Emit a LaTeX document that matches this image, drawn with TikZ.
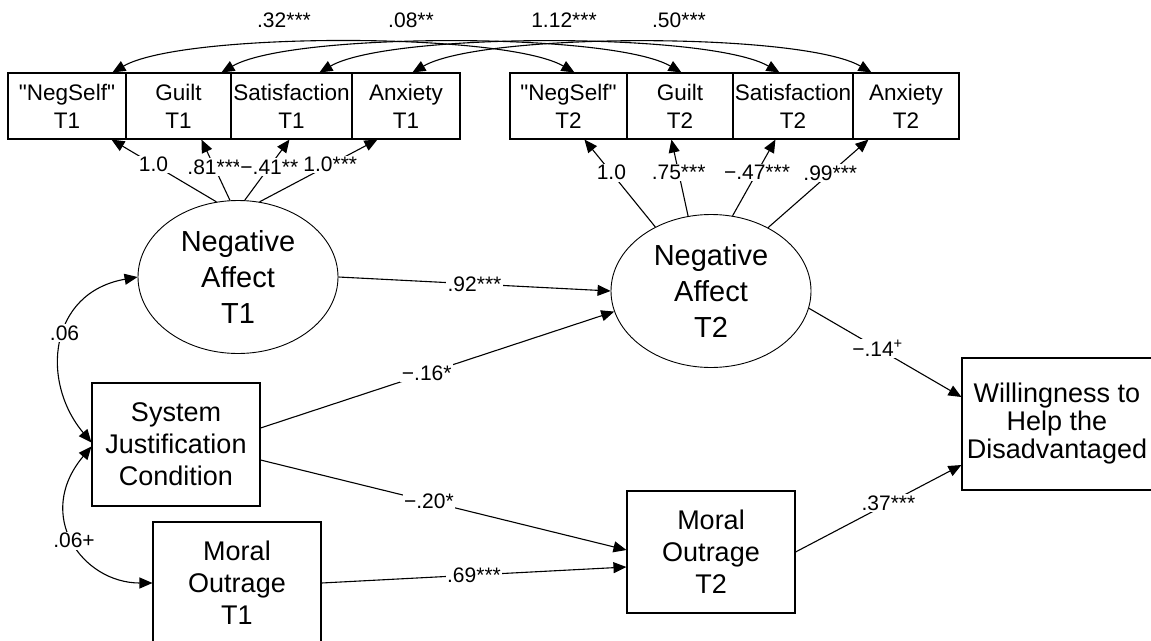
\documentclass[tikz,border=0pt]{standalone}
\usepackage{fontspec}
\setmainfont{Liberation Sans}
\usetikzlibrary{arrows.meta,shapes.geometric}
\begin{document}
\begin{tikzpicture}[x=1pt,y=1pt,
 box/.style={draw, line width=1.1pt, rectangle, inner sep=0pt, align=center, minimum width=168pt, minimum height=122pt, font=\fontsize{27}{32}\selectfont},
 ind/.style={draw, line width=1.1pt, rectangle, inner sep=0pt, minimum height=66pt, align=center, font=\fontsize{22.5}{28}\selectfont},
 lat/.style={draw, line width=0.9pt, ellipse, inner sep=0pt, minimum width=200pt, minimum height=153pt, align=center, font=\fontsize{29}{36}\selectfont},
 conn/.style={line width=1.1pt, -{Triangle[length=13pt,width=11pt]}},
 cov/.style={line width=1.1pt, {Triangle[length=13pt,width=11pt]}-{Triangle[length=13pt,width=11pt]}},
 lbl/.style={fill=white, inner sep=1.5pt, font=\fontsize{21}{24}\selectfont},
 toplbl/.style={inner sep=0pt, font=\fontsize{21}{24}\selectfont}]
\path[use as bounding box] (0,0) rectangle (1151,-640);
\clip (0,0) rectangle (1151,-640);

% indicators T1
\node[ind, minimum width=118pt] (ns1) at (67,-106) {\textquotedbl NegSelf\textquotedbl\\T1};
\node[ind, minimum width=105pt] (gu1) at (178.5,-106) {Guilt\\T1};
\node[ind, minimum width=121pt] (sa1) at (291.5,-106) {Satisfaction\\T1};
\node[ind, minimum width=108pt] (an1) at (406,-106) {Anxiety\\T1};
% indicators T2
\node[ind, minimum width=117pt] (ns2) at (568.5,-106) {\textquotedbl NegSelf\textquotedbl\\T2};
\node[ind, minimum width=106pt] (gu2) at (680,-106) {Guilt\\T2};
\node[ind, minimum width=120pt] (sa2) at (793,-106) {Satisfaction\\T2};
\node[ind, minimum width=106pt] (an2) at (906,-106) {Anxiety\\T2};

% latent
\node[lat] (na1) at (238,-277) {Negative\\Affect\\T1};
\node[lat] (na2) at (711,-291) {Negative\\Affect\\T2};

% observed
\node[box, minimum height=123pt] (sjc) at (176,-444.5) {System\\Justification\\Condition};
\node[box] (mo1) at (237,-583) {Moral\\Outrage\\T1};
\node[box] (mo2) at (711,-552) {Moral\\Outrage\\T2};
\node[box, minimum width=190pt, minimum height=132pt, font=\fontsize{27}{28}\selectfont] (w) at (1057,-424) {Willingness to\\Help the\\Disadvantaged};

% loadings T1
\draw[conn] (na1.106) -- node[lbl,pos=0.6]{1.0} ([xshift=104pt]ns1.south west);
\draw[conn] (na1.96) -- node[lbl,pos=0.55]{.81***} ([xshift=76pt]gu1.south west);
\draw[conn] (na1.85) -- node[lbl,pos=0.55]{−.41**} ([xshift=59pt]sa1.south west);
\draw[conn] (na1.74) -- node[lbl,pos=0.6]{1.0***} ([xshift=26pt]an1.south west);
% loadings T2
\draw[conn] (na2.131) -- node[lbl,pos=0.62]{1.0} ([xshift=75pt]ns2.south west);
\draw[conn] (na2.107) -- node[lbl,pos=0.57]{.75***} ([xshift=45pt]gu2.south west);
\draw[conn] (na2.74) -- node[lbl,pos=0.57]{−.47***} ([xshift=43pt]sa2.south west);
\draw[conn] (na2.48) -- node[lbl,pos=0.62]{.99***} ([xshift=16pt]an2.south west);

% residual covariances
\draw[cov] ([xshift=105pt]ns1.north west) to[out=30,in=150,looseness=0.45] ([xshift=65pt]ns2.north west);
\draw[cov] ([xshift=96pt]gu1.north west) to[out=30,in=150,looseness=0.45] ([xshift=55pt]gu2.north west);
\draw[cov] ([xshift=89pt]sa1.north west) to[out=30,in=150,looseness=0.45] ([xshift=47pt]sa2.north west);
\draw[cov] ([xshift=61pt]an1.north west) to[out=30,in=150,looseness=0.45] ([xshift=19pt]an2.north west);
\node[toplbl] (c1) at (284,-20) {.32***};
\node[toplbl] (c2) at (411,-20) {.08**};
\node[toplbl] (c3) at (564,-20) {1.12***};
\node[toplbl] (c4) at (679,-20) {.50***};

% structural paths
\draw[conn] (na1.east) -- node[lbl,pos=0.5]{.92***} (na2.west);
\draw[conn] ([yshift=16.5pt]sjc.east) -- node[lbl,pos=0.47]{−.16*} (na2.192);
\draw[conn] ([yshift=-15.5pt]sjc.east) -- node[lbl,pos=0.46]{−.20*} ([yshift=2pt]mo2.west);
\draw[conn] (mo1.east) -- node[lbl,pos=0.5]{.69***} ([yshift=-15pt]mo2.west);
\draw[conn] (na2.-10) -- node[lbl,pos=0.45]{−.14\textsuperscript{+}} ([yshift=27pt]w.west);
\draw[conn] (mo2.east) -- node[lbl,pos=0.56]{.37***} ([yshift=-41pt]w.west);

% exogenous covariances
\draw[cov] (na1.west) to[out=190,in=130,out distance=90pt,in distance=80pt] node[lbl,pos=0.45]{.06} ([yshift=2pt]sjc.west);
\draw[cov] ([yshift=-2pt]sjc.west) to[out=230,in=180,out distance=90pt,in distance=70pt] node[lbl,pos=0.5]{.06+} (mo1.west);
\end{tikzpicture}
\end{document}
